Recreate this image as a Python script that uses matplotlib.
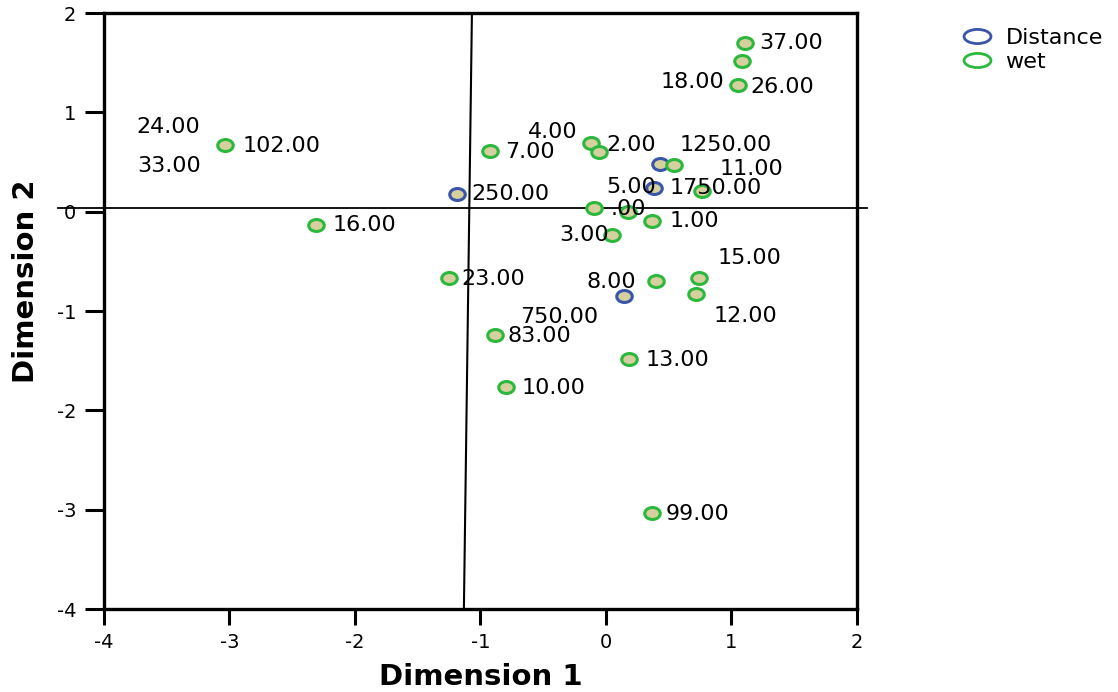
import matplotlib
matplotlib.use('Agg')
import matplotlib.pyplot as plt
from matplotlib.markers import MarkerStyle
from matplotlib.transforms import Affine2D
from matplotlib.lines import Line2D

plt.rcParams['axes.unicode_minus'] = False

# object points, Dimension 1 / Dimension 2
wet_x = [1.108, 1.084, 1.052, -3.036, -0.924, -0.120, -0.056, 0.542, 0.765, -0.096, 0.175,
         0.367, 0.048, -2.311, -1.251, 0.398, 0.741, 0.717, -0.884, 0.183, -0.797, 0.367]
wet_y = [1.694, 1.512, 1.280, 0.675, 0.615, 0.696, 0.605, 0.474, 0.212, 0.040, 0.000,
         -0.091, -0.232, -0.131, -0.665, -0.696, -0.665, -0.827, -1.240, -1.482, -1.764, -3.034]

dist_x = [0.430, -1.187, 0.382, 0.143]
dist_y = [0.484, 0.181, 0.242, -0.847]

# point labels as they sit in the chart
labels = ['37.00', '18.00', '26.00', '24.00', '102.00', '33.00', '4.00', '7.00', '2.00',
          '1250.00', '11.00', '250.00', '5.00', '1750.00', '.00', '1.00', '3.00', '16.00',
          '23.00', '15.00', '8.00', '750.00', '12.00', '83.00', '13.00', '10.00', '99.00']
label_x = [1.219, 0.438, 1.147, -3.745, -2.892, -3.737, -0.622, -0.805, 0.0,
           0.590, 0.908, -1.076, 0.0, 0.510, 0.040, 0.510, -0.375, -2.175,
           -1.155, 0.892, -0.159, -0.685, 0.861, -0.781, 0.319, -0.669, 0.478]
label_y = [1.694, 1.310, 1.260, 0.857, 0.665, 0.464, 0.806, 0.605, 0.675,
           0.675, 0.425, 0.181, 0.252, 0.236, 0.030, -0.091, -0.232, -0.131,
           -0.675, -0.464, -0.706, -1.058, -1.048, -1.250, -1.492, -1.774, -3.044]

# reference lines
hline_x = [-4.37, 2.08]
hline_y = [0.04, 0.04]
vline_x = [-1.068, -1.132]
vline_y = [2.0, -4.0]

blue = '#3a55a8'
green = '#2cb83c'
tan = '#d6cf9e'

fig = plt.figure(figsize=(11.18, 6.92), dpi=100)
ax = fig.add_axes([0.0930, 0.1199, 0.6735, 0.8613])

ax.plot(hline_x, hline_y, color='black', lw=1.3, clip_on=False, zorder=1)
ax.plot(vline_x, vline_y, color='black', lw=1.5, zorder=1)

dot = MarkerStyle('o', transform=Affine2D().scale(1.3, 1.0))
ax.plot(dist_x, dist_y, ls='none', marker=dot, ms=8.6, mfc=tan, mec=blue, mew=2.2, zorder=3)
ax.plot(wet_x, wet_y, ls='none', marker=dot, ms=8.6, mfc=tan, mec=green, mew=2.2, zorder=4)

for t, lx, ly in zip(labels, label_x, label_y):
    ax.text(lx, ly, t, fontsize=16, ha='left', va='center', color='black', zorder=5)

ax.set_xlim(-4, 2)
ax.set_ylim(-4, 2)
ax.set_xticks(range(-4, 3))
ax.set_yticks(range(-4, 3))
for s in ax.spines.values():
    s.set_linewidth(2.4)
ax.tick_params(axis='both', direction='out', width=2.2, labelsize=14, pad=6)
ax.tick_params(axis='y', length=14)
ax.tick_params(axis='x', length=11.5)

ax.set_xlabel('Dimension 1', fontsize=21, fontweight='bold')
ax.set_ylabel('Dimension 2', fontsize=21, fontweight='bold')
ax.xaxis.set_label_coords(0.5, -0.0906)
ax.yaxis.set_label_coords(-0.085, 0.55)

ell = MarkerStyle('o', transform=Affine2D().scale(1.9, 1.0))
handles = [Line2D([], [], ls='none', marker=ell, ms=10.2, mfc='none', mec=blue, mew=2),
           Line2D([], [], ls='none', marker=ell, ms=10.2, mfc='none', mec=green, mew=2)]
fig.legend(handles, ['Distance', 'wet'], loc='upper left', bbox_to_anchor=(0.8596, 0.960),
           frameon=False, fontsize=16, borderpad=0, borderaxespad=0, handlelength=1.4,
           handletextpad=0.6, labelspacing=0.18)

fig.savefig('out.png', dpi=100)
